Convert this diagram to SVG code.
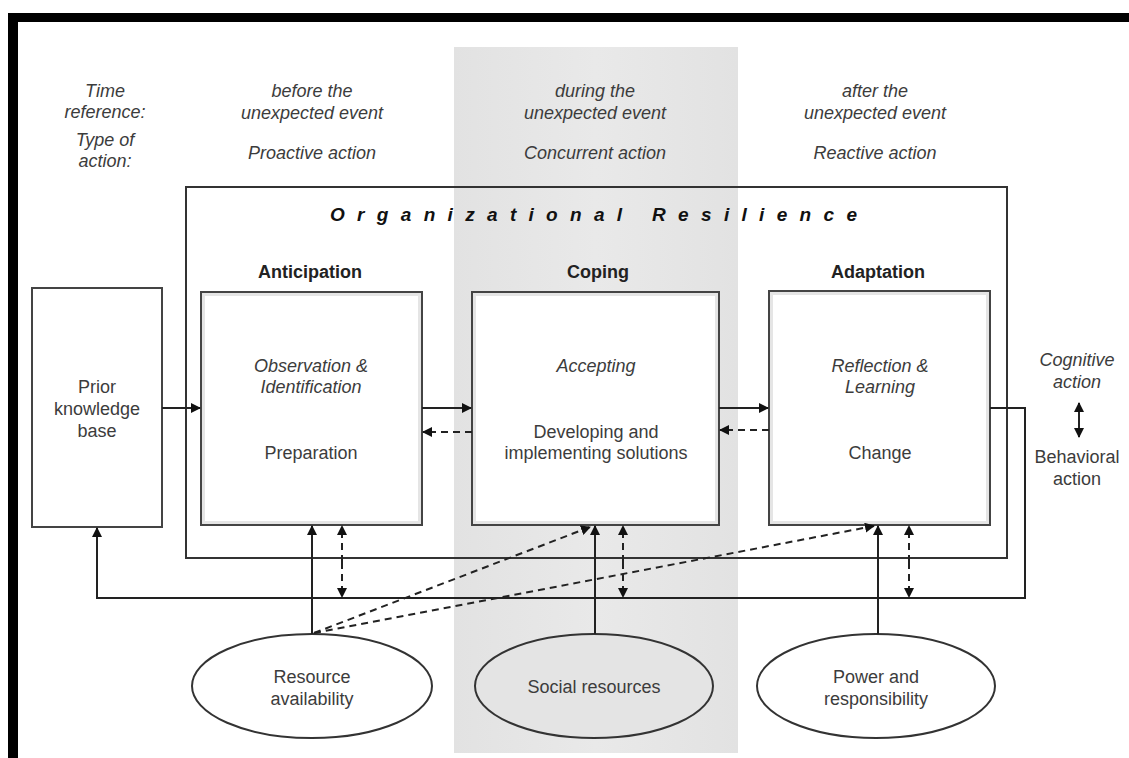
<svg xmlns="http://www.w3.org/2000/svg" width="1129" height="758" viewBox="0 0 1129 758">
<style>
text{font-family:"Liberation Sans",Arial,sans-serif;fill:#3c3c3c;text-anchor:middle}
.it{font-style:italic;font-size:18px}
.lbl{font-size:18px}
.hd{font-weight:bold;font-size:18px;fill:#222}
.box{fill:#fff;stroke:#444;stroke-width:2}
.inner{fill:none;stroke:#d4d4d4;stroke-width:3;opacity:0.6}
.ell{stroke:#333;stroke-width:2}
.ln{fill:none;stroke:#222;stroke-width:2}
.dash{fill:none;stroke:#222;stroke-width:2;stroke-dasharray:7 5}
</style>
<defs>
<marker id="ah" viewBox="0 0 10 10" refX="9" refY="5" markerWidth="10" markerHeight="10" markerUnits="userSpaceOnUse" orient="auto-start-reverse">
<path d="M0,0 L10,5 L0,10 z" fill="#111"/>
</marker>
<linearGradient id="band" x1="0" x2="1" y1="0" y2="0">
<stop offset="0" stop-color="#e2e2e2"/>
<stop offset="0.5" stop-color="#e9e9e9"/>
<stop offset="1" stop-color="#e2e2e2"/>
</linearGradient>
</defs>
<rect x="0" y="0" width="1129" height="758" fill="#fff"/>
<rect x="454" y="47" width="284" height="706" fill="url(#band)"/>
<rect x="8" y="13" width="1121" height="9" fill="#000"/>
<rect x="8" y="13" width="10" height="745" fill="#000"/>

<g id="headers">
<text class="it" x="105" y="97">Time</text>
<text class="it" x="105" y="118">reference:</text>
<text class="it" x="105" y="146">Type of</text>
<text class="it" x="105" y="167">action:</text>
<text class="it" x="312" y="97">before the</text>
<text class="it" x="312" y="119">unexpected event</text>
<text class="it" x="312" y="159">Proactive action</text>
<text class="it" x="595" y="97">during the</text>
<text class="it" x="595" y="119">unexpected event</text>
<text class="it" x="595" y="159">Concurrent action</text>
<text class="it" x="875" y="97">after the</text>
<text class="it" x="875" y="119">unexpected event</text>
<text class="it" x="875" y="159">Reactive action</text>
</g>

<g id="org-resilience">
<rect x="186" y="187" width="821" height="371" fill="none" stroke="#333" stroke-width="2"/>
<text x="330" y="221" textLength="527" lengthAdjust="spacing" style="text-anchor:start;font-weight:bold;font-style:italic;font-size:19px;fill:#111">Organizational Resilience</text>
</g>

<g id="prior">
<rect class="box" x="32" y="288" width="130" height="239"/>
<text class="lbl" x="97" y="393">Prior</text>
<text class="lbl" x="97" y="415">knowledge</text>
<text class="lbl" x="97" y="437">base</text>
</g>

<g id="anticipation">
<text class="hd" x="310" y="278">Anticipation</text>
<rect class="box" x="201" y="292" width="221" height="233"/>
<rect class="inner" x="203.5" y="294.5" width="216" height="228"/>
<text class="it lbl" x="311" y="372">Observation &amp;</text>
<text class="it lbl" x="311" y="393">Identification</text>
<text class="lbl" x="311" y="459">Preparation</text>
</g>

<g id="coping">
<text class="hd" x="598" y="278">Coping</text>
<rect class="box" x="472" y="292" width="247" height="233"/>
<rect class="inner" x="474.5" y="294.5" width="242" height="228"/>
<text class="it lbl" x="596" y="372">Accepting</text>
<text class="lbl" x="596" y="438">Developing and</text>
<text class="lbl" x="596" y="459">implementing solutions</text>
</g>

<g id="adaptation">
<text class="hd" x="878" y="278">Adaptation</text>
<rect class="box" x="769" y="291" width="221" height="234"/>
<rect class="inner" x="771.5" y="293.5" width="216" height="229"/>
<text class="it lbl" x="880" y="372">Reflection &amp;</text>
<text class="it lbl" x="880" y="393">Learning</text>
<text class="lbl" x="880" y="459">Change</text>
</g>

<g id="legend">
<text class="it lbl" x="1077" y="366">Cognitive</text>
<text class="it lbl" x="1077" y="388">action</text>
<text class="lbl" x="1077" y="463">Behavioral</text>
<text class="lbl" x="1077" y="485">action</text>
</g>

<g id="resource">
<ellipse class="ell" cx="312" cy="686" rx="120" ry="52" fill="#fff"/>
<text class="lbl" x="312" y="683">Resource</text>
<text class="lbl" x="312" y="705">availability</text>
</g>
<g id="social">
<ellipse class="ell" cx="594" cy="686" rx="119" ry="52" fill="#e4e4e4"/>
<text class="lbl" x="594" y="693">Social resources</text>
</g>
<g id="power">
<ellipse class="ell" cx="876" cy="686" rx="119" ry="52" fill="#fff"/>
<text class="lbl" x="876" y="683">Power and</text>
<text class="lbl" x="876" y="705">responsibility</text>
</g>

<g id="connectors">
<line class="ln" x1="162" y1="408" x2="200" y2="408" marker-end="url(#ah)"/>
<line class="ln" x1="422" y1="408" x2="471" y2="408" marker-end="url(#ah)"/>
<line class="dash" x1="472" y1="432" x2="423" y2="432" marker-end="url(#ah)"/>
<line class="ln" x1="719" y1="408" x2="768" y2="408" marker-end="url(#ah)"/>
<line class="dash" x1="769" y1="430" x2="720" y2="430" marker-end="url(#ah)"/>
<polyline class="ln" points="990,408 1025,408 1025,598 97,598 97,528" marker-end="url(#ah)"/>
<line class="ln" x1="1079" y1="403" x2="1079" y2="437" marker-start="url(#ah)" marker-end="url(#ah)"/>
<line class="ln" x1="312" y1="634" x2="312" y2="526" marker-end="url(#ah)"/>
<line class="dash" x1="342" y1="562" x2="342" y2="526" marker-end="url(#ah)"/>
<line class="dash" x1="342" y1="562" x2="342" y2="597" marker-end="url(#ah)"/>
<line class="ln" x1="595" y1="634" x2="595" y2="526" marker-end="url(#ah)"/>
<line class="dash" x1="623" y1="562" x2="623" y2="526" marker-end="url(#ah)"/>
<line class="dash" x1="623" y1="562" x2="623" y2="597" marker-end="url(#ah)"/>
<line class="ln" x1="878" y1="634" x2="878" y2="526" marker-end="url(#ah)"/>
<line class="dash" x1="909" y1="562" x2="909" y2="526" marker-end="url(#ah)"/>
<line class="dash" x1="909" y1="562" x2="909" y2="597" marker-end="url(#ah)"/>
<line class="dash" x1="314" y1="633" x2="590" y2="527" marker-end="url(#ah)"/>
<line class="dash" x1="314" y1="633" x2="874" y2="526" marker-end="url(#ah)"/>
</g>
</svg>
